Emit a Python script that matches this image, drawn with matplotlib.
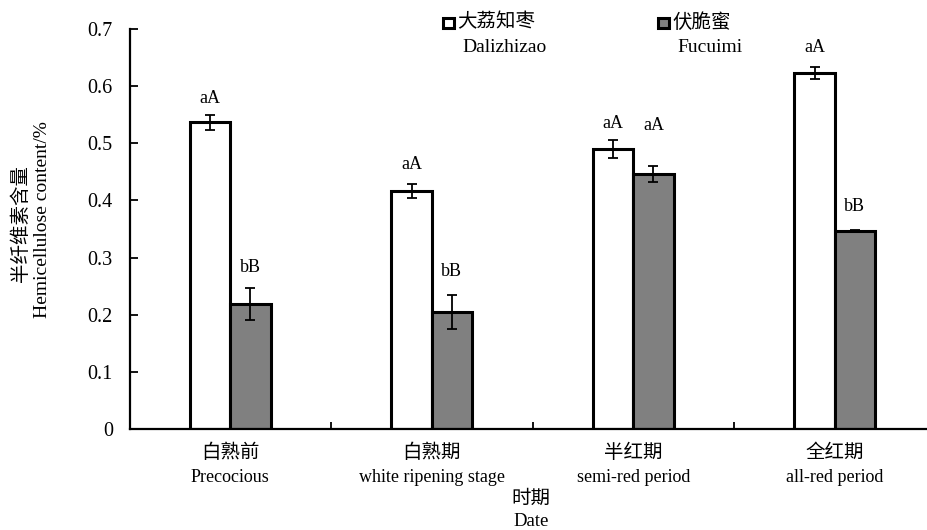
import matplotlib
matplotlib.use("Agg")
import matplotlib.pyplot as plt
from matplotlib.patches import Rectangle
from matplotlib.ticker import FixedLocator, FuncFormatter
import numpy as np

# ---- data -------------------------------------------------------------
stages_cn = ["白熟前", "白熟期", "半红期", "全红期"]
stages_en = ["Precocious", "white ripening stage", "semi-red period", "all-red period"]
series_cn = ["大荔知枣", "伏脆蜜"]
series_en = ["Dalizhizao", "Fucuimi"]
dalizhizao = [0.537, 0.417, 0.490, 0.623]
dalizhizao_err = [0.013, 0.012, 0.016, 0.010]
fucuimi = [0.218, 0.205, 0.446, 0.346]
fucuimi_err = [0.028, 0.030, 0.014, 0.002]
dalizhizao_sig = ["aA", "aA", "aA", "aA"]
fucuimi_sig = ["bB", "bB", "aA", "bB"]
yticks = [0, 0.1, 0.2, 0.3, 0.4, 0.5, 0.6, 0.7]

# ---- style ------------------------------------------------------------
SERIF = ["Liberation Serif", "Noto Sans CJK SC"]
CJK = ["Noto Sans CJK SC", "DejaVu Sans"]
plt.rcParams["font.family"] = SERIF
# vertical gap (points) between error-bar top and significance letters
sig_pad_white = [12, 14, 12, 14]
sig_pad_gray = [15, 17, 29, 17]

W, H = 928, 530
fig = plt.figure(figsize=(W / 100, H / 100), dpi=100)
ax = fig.add_axes([129.5 / W, 101 / H, 806 / W, 400 / H])

n = len(stages_cn)
centers = np.arange(n) + 0.5
bw = 0.2

ax.bar(centers - bw / 2, dalizhizao, bw, color="white", edgecolor="black",
       linewidth=2.2, zorder=2)
ax.bar(centers + bw / 2, fucuimi, bw, color="#808080", edgecolor="black",
       linewidth=2.2, zorder=2)
ax.errorbar(centers - bw / 2, dalizhizao, yerr=dalizhizao_err, fmt="none",
            ecolor="black", elinewidth=1.3, capsize=3.5, capthick=1.3, zorder=3)
ax.errorbar(centers + bw / 2, fucuimi, yerr=fucuimi_err, fmt="none",
            ecolor="black", elinewidth=1.3, capsize=3.5, capthick=1.3, zorder=3)

for i in range(n):
    ax.annotate(dalizhizao_sig[i], (centers[i] - bw / 2, dalizhizao[i] + dalizhizao_err[i]),
                xytext=(0, sig_pad_white[i]), textcoords="offset points",
                ha="center", va="center", fontsize=13)
    ax.annotate(fucuimi_sig[i], (centers[i] + bw / 2, fucuimi[i] + fucuimi_err[i]),
                xytext=(0, sig_pad_gray[i]), textcoords="offset points",
                ha="center", va="center", fontsize=13)

ax.set_xlim(0, n)
ax.set_ylim(0, 0.7)
for s in ("top", "right"):
    ax.spines[s].set_visible(False)
for s in ("left", "bottom"):
    ax.spines[s].set_linewidth(1.6)
ax.spines["bottom"].set_clip_on(False)

ax.yaxis.set_major_locator(FixedLocator(yticks))
ax.yaxis.set_major_formatter(FuncFormatter(lambda v, p: "0" if v == 0 else f"{v:.1f}"))
ax.tick_params(axis="y", direction="in", length=6, width=1.3, labelsize=14.5, pad=12)
ax.set_xticks(np.arange(1, n))
ax.set_xticklabels([])
ax.tick_params(axis="x", direction="in", length=5, width=1.3)

# category labels: Chinese line over English line
for i in range(n):
    ax.annotate(stages_cn[i], (centers[i], 0), xycoords=("data", "axes fraction"),
                xytext=(0, -17), textcoords="offset points", ha="center", va="center",
                fontsize=14, family=CJK)
    ax.annotate(stages_en[i], (centers[i], 0), xycoords=("data", "axes fraction"),
                xytext=(0, -35), textcoords="offset points", ha="center", va="center",
                fontsize=13)

# x-axis title
fig.text(531 / W, 1 - 498 / H, "时期", ha="center", va="center", fontsize=14, family=CJK)
fig.text(531 / W, 1 - 521 / H, "Date", ha="center", va="center", fontsize=13.5)

# y-axis title
fig.text(21 / W, 1 - 223 / H, "半纤维素含量", rotation=90, ha="center", va="center",
         fontsize=14, family=CJK)
fig.text(43 / W, 1 - 220 / H, "Hemicellulose content/%", rotation=90, ha="center",
         va="center", fontsize=14)

# legend
legend_x = [443, 658]
fills = ["white", "#808080"]
for k in range(2):
    x0 = legend_x[k]
    fig.patches.append(Rectangle((x0 / W, 1 - 28 / H), 11 / W, 10 / H,
                                 transform=fig.transFigure, facecolor=fills[k],
                                 edgecolor="black", linewidth=2.2))
    fig.text((x0 + 14) / W, 1 - 22 / H, series_cn[k], ha="left", va="center",
             fontsize=14, family=CJK)
    fig.text((x0 + 19) / W, 1 - 47 / H, series_en[k], ha="left", va="center",
             fontsize=14)

fig.savefig("out.png", dpi=100)
